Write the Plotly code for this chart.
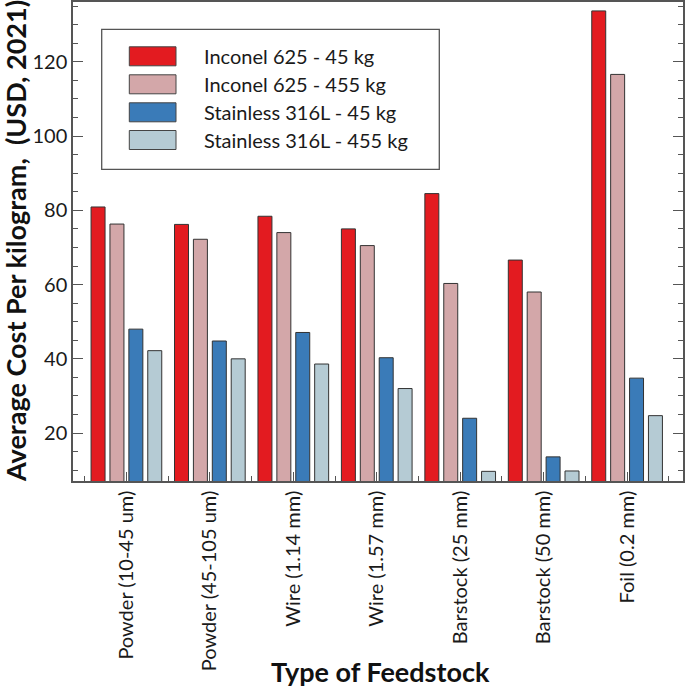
import plotly.graph_objects as go

categories = ["Powder (10-45 um)", "Powder (45-105 um)", "Wire (1.14 mm)", "Wire (1.57 mm)",
              "Barstock (25 mm)", "Barstock (50 mm)", "Foil (0.2 mm)"]
series_names = ["Inconel 625 - 45 kg", "Inconel 625 - 455 kg",
                "Stainless 316L - 45 kg", "Stainless 316L - 455 kg"]
inconel_45 = [80.9, 76.2, 78.4, 75.0, 84.5, 66.6, 133.7]
inconel_455 = [76.3, 72.2, 74.0, 70.5, 60.3, 58.0, 116.6]
ss316_45 = [48.0, 44.8, 47.1, 40.3, 24.0, 13.6, 34.8]
ss316_455 = [42.2, 40.0, 38.6, 32.0, 9.7, 9.8, 24.7]
y_tickvals = [20, 40, 60, 80, 100, 120]
x_title = "Type of Feedstock"
y_title = "Average Cost Per kilogram,\u00a0 (USD, 2021)"

values = [inconel_45, inconel_455, ss316_45, ss316_455]
colors = ["#E31B20", "#D3A7A9", "#3A7BB8", "#B5CBD4"]
FONT = "Lato"
TXT = "#1a1a1a"

W, H = 685, 689
ML, MR, MT, MB = 73, 2, 2, 208
PW, PH = W - ML - MR, H - MT - MB

x_pos = list(range(len(categories)))

fig = go.Figure()
for name, vals, col in zip(series_names, values, colors):
    fig.add_trace(go.Bar(
        x=x_pos, y=vals, name=name, marker=dict(color=col, line=dict(color="#333333", width=1)),
        showlegend=False, hoverinfo="skip",
    ))


def px_x(px):
    return (px - ML) / PW


def px_y(py):
    return (H - MB - py) / PH


# custom legend (box + wide swatches)
shapes = [dict(type="rect", xref="paper", yref="paper",
               x0=px_x(101.7), x1=px_x(439.3), y0=px_y(169.3), y1=px_y(29.3),
               line=dict(color="#555555", width=1.3), fillcolor="white", layer="above")]
annotations = []
row_centers = [56.3, 84.3, 112.3, 140.0]
for name, col, rc in zip(series_names, colors, row_centers):
    shapes.append(dict(type="rect", xref="paper", yref="paper",
                       x0=px_x(129.3), x1=px_x(176), y0=px_y(rc + 9.5), y1=px_y(rc - 9.5),
                       line=dict(color="#444444", width=1), fillcolor=col, layer="above"))
    annotations.append(dict(xref="paper", yref="paper", x=px_x(202), y=px_y(rc),
                            xanchor="left", yanchor="middle", showarrow=False, text=name,
                            font=dict(family=FONT, size=20, color=TXT)))

# axis titles
annotations.append(dict(xref="paper", yref="paper", x=px_x(380), y=px_y(671),
                        xanchor="center", yanchor="middle", showarrow=False,
                        text="<b>" + x_title + "</b>",
                        font=dict(family=FONT, size=27, color="#111111")))
annotations.append(dict(xref="paper", yref="paper", x=px_x(15), y=px_y(241),
                        xanchor="center", yanchor="middle", showarrow=False, textangle=-90,
                        text="<b>" + y_title + "</b>",
                        font=dict(family=FONT, size=27, color="#111111")))

fig.update_layout(
    width=W, height=H,
    margin=dict(l=ML, r=MR, t=MT, b=MB, autoexpand=False),
    paper_bgcolor="white", plot_bgcolor="white",
    barmode="group", bargap=0.094, bargroupgap=0.26,
    font=dict(family=FONT, color=TXT),
    shapes=shapes, annotations=annotations,
    xaxis=dict(
        range=[-0.64, 6.67], tickmode="array", tickvals=x_pos, ticktext=categories,
        tickangle=-90, tickfont=dict(family=FONT, size=20, color=TXT),
        ticks="inside", ticklen=9, tickcolor="#555555", tickwidth=1,
        minor=dict(tickmode="array", tickvals=[i + 0.5 for i in range(-1, len(categories))],
                   ticks="inside", ticklen=5, tickcolor="#555555", tickwidth=1),
        showline=True, linecolor="#555555", linewidth=1.5, mirror=True,
        showgrid=False, zeroline=False, automargin=False,
    ),
    yaxis=dict(
        range=[7.1, 136.1], tickmode="array", tickvals=y_tickvals,
        tickfont=dict(family=FONT, size=20, color=TXT),
        ticks="inside", ticklen=10, tickcolor="#555555", tickwidth=1,
        minor=dict(dtick=5, tick0=0, ticks="inside", ticklen=5, tickcolor="#555555", tickwidth=1),
        showline=True, linecolor="#555555", linewidth=1.5, mirror="ticks",
        showgrid=False, zeroline=False, automargin=False,
    ),
)

fig.write_html("out.html", config={"displayModeBar": False},
               post_script="document.body.style.margin='0';document.body.style.overflow='hidden';")
